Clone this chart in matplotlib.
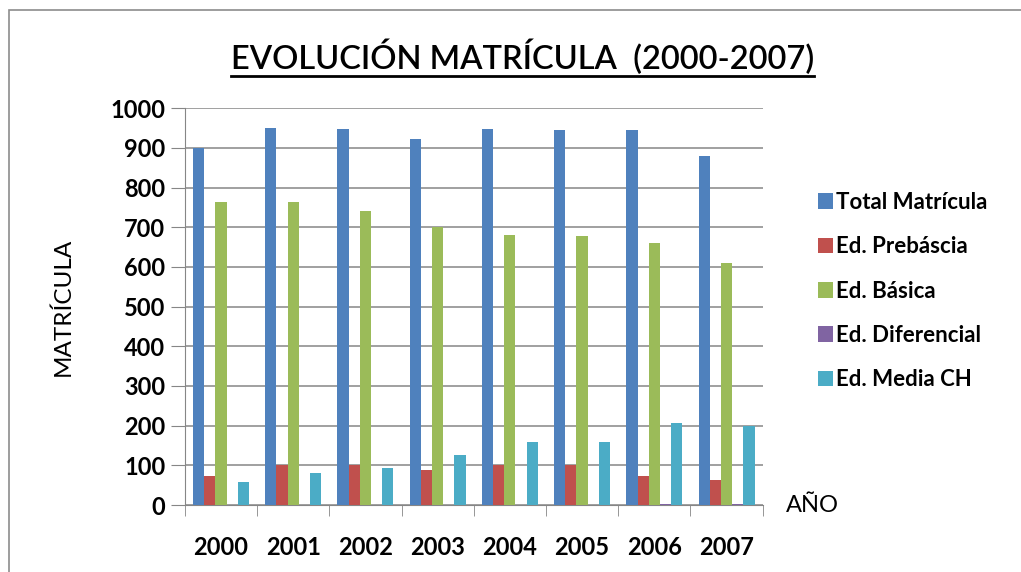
import matplotlib.pyplot as plt
import numpy as np
from matplotlib.patches import Rectangle
from matplotlib.lines import Line2D

years = ['2000', '2001', '2002', '2003', '2004', '2005', '2006', '2007']
series_names = ['Total Matrícula', 'Ed. Prebáscia', 'Ed. Básica', 'Ed. Diferencial', 'Ed. Media CH']
total = [900, 951, 947, 922, 947, 944, 944, 880]
prebasica = [72, 100, 100, 88, 100, 100, 72, 64]
basica = [764, 763, 742, 700, 680, 677, 660, 609]
diferencial = [0, 0, 0, 0, 0, 0, 3, 3]
media = [59, 80, 93, 127, 160, 160, 206, 200]
colors = ['#4F81BD', '#C0504D', '#9BBB59', '#8064A2', '#4BACC6']

plt.rcParams['font.family'] = ['Lato', 'DejaVu Sans']

fig = plt.figure(figsize=(10.21, 5.72), dpi=100)
ax = fig.add_axes([0.181, 0.117, 0.566, 0.694])

# gray border around the chart area
fig.patches.append(Rectangle((0.009, -0.1), 1.2, 1.083, transform=fig.transFigure,
                             fill=False, edgecolor='#8c8c8c', linewidth=1.2))

x = np.arange(len(years))
bw = 0.155
all_series = [total, prebasica, basica, diferencial, media]
handles = []
for i, vals in enumerate(all_series):
    b = ax.bar(x - 2 * bw + i * bw, vals, bw, color=colors[i], label=series_names[i], zorder=3)
    handles.append(b)

ax.set_xlim(-0.5, len(years) - 0.5)
ax.set_ylim(0, 1000)
ax.set_yticks(range(0, 1001, 100))
ax.yaxis.grid(True, color='#868686', linewidth=1.1, zorder=0)
for s in ['top', 'right']:
    ax.spines[s].set_visible(False)
for s in ['left', 'bottom']:
    ax.spines[s].set_color('#868686')
ax.tick_params(axis='y', length=10, color='#868686', labelsize=17, pad=4)
ax.set_yticklabels([str(v) for v in range(0, 1001, 100)], fontweight='bold')

# category labels centred, ticks between categories
ax.set_xticks(x)
ax.set_xticklabels(years, fontsize=17, fontweight='bold')
ax.tick_params(axis='x', length=0, pad=22)
ax.set_xticks(np.arange(-0.5, len(years)), minor=True)
ax.tick_params(axis='x', which='minor', length=8, color='#868686')

ax.set_ylabel('MATRÍCULA', fontsize=17.5, labelpad=26)
ax.text(1.04, 0.0, 'AÑO', transform=ax.transAxes, fontsize=17, va='center', ha='left')

leg = fig.legend(handles=handles, loc='upper left', bbox_to_anchor=(0.792, 0.68),
                 frameon=False, fontsize=16, handlelength=0.7, handleheight=0.7,
                 handletextpad=0.15, labelspacing=1.05, borderaxespad=0)
for t in leg.get_texts():
    t.set_fontweight('bold')

title = fig.text(0.512, 0.9, 'EVOLUCIÓN MATRÍCULA  (2000-2007)', ha='center', va='center',
                 fontsize=23.5, fontweight='semibold')

# underline for the title
fig.canvas.draw()
bb = title.get_window_extent().transformed(fig.transFigure.inverted())
fig.lines.append(Line2D([bb.x0, bb.x1], [bb.y0 - 0.002, bb.y0 - 0.002], transform=fig.transFigure,
                        color='black', linewidth=2))

fig.savefig('out.png', dpi=100)
